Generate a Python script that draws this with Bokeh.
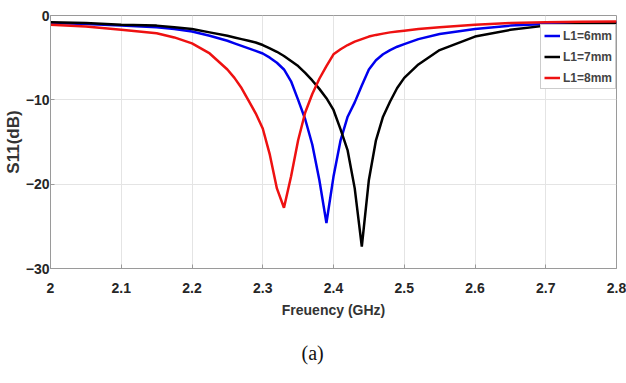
from bokeh.plotting import figure
from bokeh.models import FixedTicker, Legend, LegendItem, Title
from bokeh.embed import file_html
from bokeh.resources import INLINE

freq = [2.00, 2.05, 2.10, 2.15, 2.175, 2.20, 2.225, 2.25, 2.26, 2.27, 2.28, 2.29, 2.30, 2.31,
        2.32, 2.33, 2.34, 2.35, 2.36, 2.37, 2.38, 2.39, 2.40, 2.41, 2.42, 2.43, 2.44, 2.45,
        2.46, 2.47, 2.48, 2.49, 2.50, 2.52, 2.55, 2.60, 2.65, 2.70, 2.75, 2.80]

s11_6mm = [-0.9, -1.0, -1.2, -1.4, -1.6, -1.9, -2.4, -3.0, -3.3, -3.6, -3.9, -4.2, -4.5, -5.0,
           -5.6, -6.4, -7.8, -10.0, -12.3, -15.3, -19.5, -24.6, -19.1, -14.8, -12.0, -10.3,
           -8.3, -6.4, -5.3, -4.6, -4.1, -3.7, -3.4, -2.8, -2.2, -1.6, -1.2, -1.0, -0.85, -0.8]

s11_7mm = [-0.8, -0.9, -1.1, -1.2, -1.4, -1.6, -2.0, -2.4, -2.6, -2.8, -3.0, -3.2, -3.5, -3.9,
           -4.3, -4.8, -5.4, -6.0, -6.8, -7.7, -8.7, -9.8, -11.2, -13.5, -16.0, -20.5, -27.4,
           -19.5, -14.8, -12.0, -10.2, -8.6, -7.4, -5.8, -4.1, -2.5, -1.7, -1.2, -1.0, -0.9]

s11_8mm = [-1.1, -1.3, -1.7, -2.1, -2.6, -3.3, -4.5, -6.4, -7.4, -8.6, -10.1, -11.6, -13.4, -16.5,
           -20.5, -22.8, -19.1, -14.8, -11.5, -9.3, -7.5, -6.0, -4.6, -4.0, -3.5, -3.1, -2.8,
           -2.5, -2.3, -2.15, -2.0, -1.9, -1.8, -1.6, -1.4, -1.1, -0.9, -0.8, -0.75, -0.7]

series_labels = ["L1=6mm", "L1=7mm", "L1=8mm"]
series_colors = ["#0000ee", "#000000", "#ee1111"]

x_ticks = [2.0, 2.1, 2.2, 2.3, 2.4, 2.5, 2.6, 2.7, 2.8]
x_tick_labels = ["2", "2.1", "2.2", "2.3", "2.4", "2.5", "2.6", "2.7", "2.8"]
y_ticks = [-30, -20, -10, 0]

SANS = "Liberation Sans"

p = figure(width=626, height=383, output_backend="svg", toolbar_location=None,
           x_range=(2.0, 2.8), y_range=(-30, 0),
           min_border_left=49, min_border_right=10, min_border_top=15, min_border_bottom=114)

p.outline_line_color = "#9a9a9a"
p.outline_line_width = 1

items = []
for ys, lab, col in zip([s11_6mm, s11_7mm, s11_8mm], series_labels, series_colors):
    r = p.line(freq, ys, line_color=col, line_width=2.5)
    items.append(LegendItem(label=lab, renderers=[r]))

p.xaxis.ticker = FixedTicker(ticks=x_ticks)
p.xaxis.major_label_overrides = {t: l for t, l in zip(x_ticks, x_tick_labels)}
p.yaxis.ticker = FixedTicker(ticks=y_ticks)

for ax in (p.xaxis[0], p.yaxis[0]):
    ax.axis_line_color = "#9a9a9a"
    ax.major_tick_line_color = "#9a9a9a"
    ax.major_tick_in = 4
    ax.major_tick_out = 0
    ax.minor_tick_line_color = None
    ax.major_label_text_font = SANS
    ax.major_label_text_font_style = "bold"
    ax.major_label_text_font_size = "14px"
    ax.major_label_text_color = "#262626"
    ax.axis_label_text_font = SANS
    ax.axis_label_text_font_style = "bold"
    ax.axis_label_text_color = "#333333"

p.xaxis.axis_label = "Freuency (GHz)"
p.xaxis.axis_label_text_font_size = "14px"
p.xaxis.major_label_standoff = 14
p.xaxis.axis_label_standoff = 6

p.yaxis.axis_label = "S11(dB)"
p.yaxis.axis_label_text_font_size = "17px"
p.yaxis.major_label_standoff = 1
p.yaxis.axis_label_standoff = 0

p.xgrid.grid_line_color = "#e4e4e4"
p.ygrid.grid_line_color = "#e4e4e4"

legend = Legend(items=items, location=(490, 179))
legend.label_text_font = SANS
legend.label_text_font_style = "bold"
legend.label_text_font_size = "12px"
legend.glyph_width = 16
legend.glyph_height = 15
legend.label_height = 15
legend.label_standoff = 3
legend.spacing = 6
legend.padding = 3
legend.margin = 0
legend.border_line_color = "#9a9a9a"
legend.border_line_width = 1
legend.background_fill_color = "white"
legend.background_fill_alpha = 1.0
p.add_layout(legend, "center")

cap = Title(text="(a)", align="left", vertical_align="bottom", text_font="Liberation Serif",
            text_font_size="20px", text_font_style="normal", text_color="#111111",
            standoff=39, offset=251)
p.add_layout(cap, "below")

open("out.html", "w").write(file_html(p, INLINE))
